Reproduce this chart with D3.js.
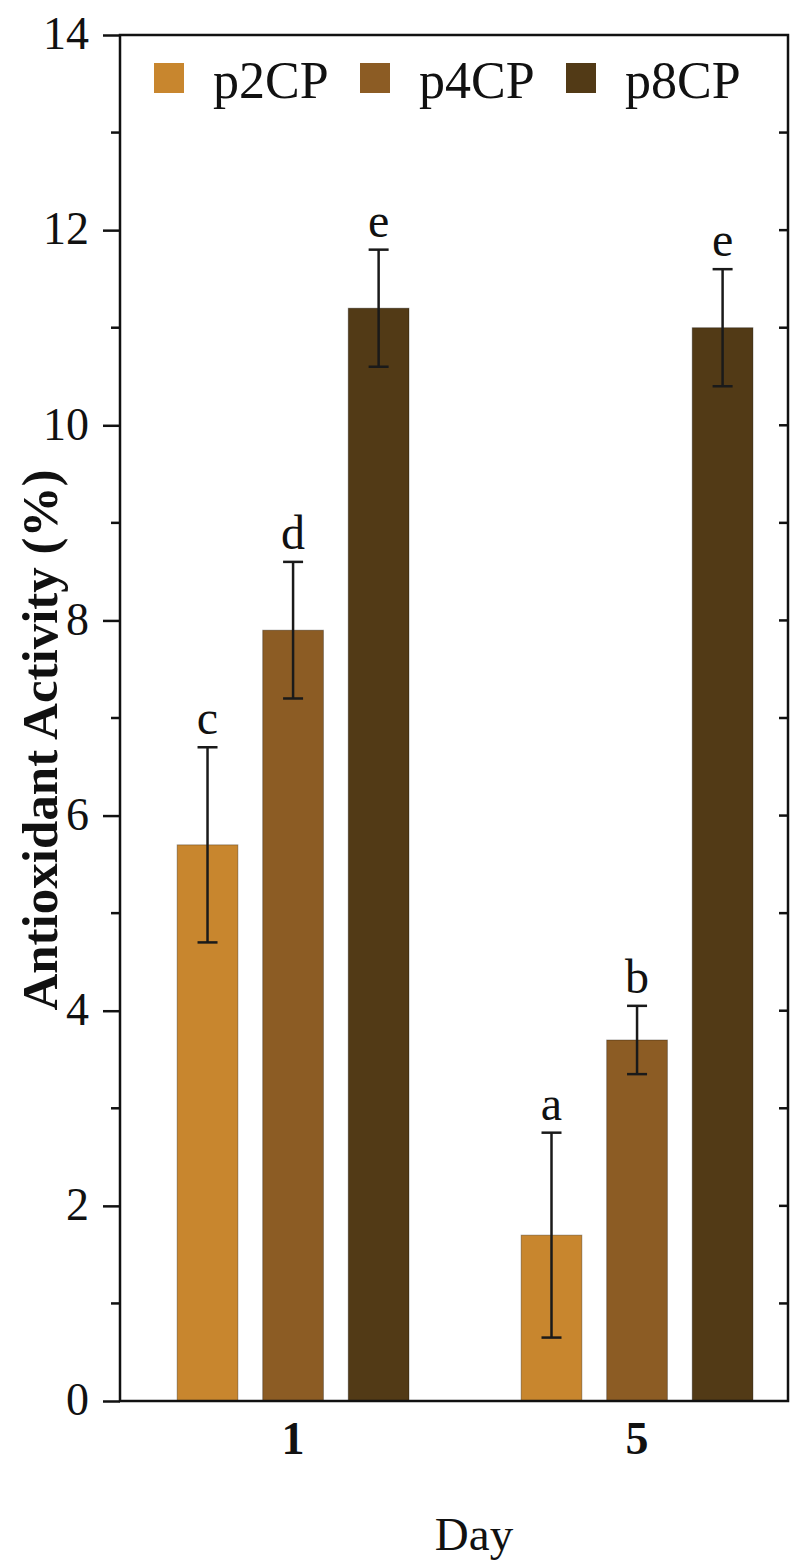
<!DOCTYPE html>
<html>
<head>
<meta charset="utf-8">
<script src="https://cdn.jsdelivr.net/npm/d3@7"></script>
<style>
  body { margin: 0; background: #fff; }
  svg text { font-family: "Liberation Serif", "Times New Roman", serif; fill: #111; }
</style>
</head>
<body>
<svg id="chart"></svg>
<script>
// data
const days = ['1', '5'];
const series = ['p2CP', 'p4CP', 'p8CP'];
const colors = ['#c8862e', '#8c5c24', '#523a16'];
const means = [
  [5.7, 7.9, 11.2],   // day 1
  [1.7, 3.7, 11.0]    // day 5
];
const errs = [
  [1.0, 0.7, 0.6],
  [1.05, 0.35, 0.6]
];
const letters = [
  ['c', 'd', 'e'],
  ['a', 'b', 'e']
];
const yTicks = [0, 2, 4, 6, 8, 10, 12, 14];

const W = 802, H = 1566;
const m = {top: 35, right: 14, bottom: 165, left: 120};

const svg = d3.select('#chart').attr('width', W).attr('height', H);

const y = d3.scaleLinear().domain([0, 14]).range([H - m.bottom, m.top]);
const x0 = d3.scaleBand().domain(days)
  .range([m.left, W - m.right])
  .paddingInner(0.326).paddingOuter(0.134).align(0.62);
const x1 = d3.scaleBand().domain(series)
  .range([0, x0.bandwidth()])
  .paddingInner(0.29);

const rows = [];
days.forEach((d, i) => series.forEach((s, j) => {
  rows.push({day: d, s, j, v: means[i][j], e: errs[i][j], lab: letters[i][j]});
}));

// bars
svg.append('g').selectAll('rect')
  .data(rows)
  .join('rect')
  .attr('x', d => x0(d.day) + x1(d.s))
  .attr('y', d => y(d.v))
  .attr('width', x1.bandwidth())
  .attr('height', d => y(0) - y(d.v))
  .attr('fill', d => colors[d.j])
  .attr('stroke', 'rgba(0,0,0,0.3)')
  .attr('stroke-width', 1);

// error bars
const cx = d => x0(d.day) + x1(d.s) + x1.bandwidth() / 2;
const eb = svg.append('g').attr('stroke', '#1a1a1a').attr('stroke-width', 2.5);
eb.selectAll('line.v').data(rows).join('line')
  .attr('x1', cx).attr('x2', cx)
  .attr('y1', d => y(d.v + d.e)).attr('y2', d => y(d.v - d.e));
eb.selectAll('line.t').data(rows).join('line')
  .attr('x1', d => cx(d) - 10).attr('x2', d => cx(d) + 10)
  .attr('y1', d => y(d.v + d.e)).attr('y2', d => y(d.v + d.e));
eb.selectAll('line.b').data(rows).join('line')
  .attr('x1', d => cx(d) - 10).attr('x2', d => cx(d) + 10)
  .attr('y1', d => y(d.v - d.e)).attr('y2', d => y(d.v - d.e));

// significance letters
svg.append('g').selectAll('text')
  .data(rows)
  .join('text')
  .attr('x', cx)
  .attr('y', d => y(d.v + d.e) - 13)
  .attr('text-anchor', 'middle')
  .attr('font-size', 48)
  .text(d => d.lab);

// left axis: outward major + minor ticks
const yMinor = d3.range(1, 14, 2);
const axL = svg.append('g').attr('transform', `translate(${m.left},0)`);
axL.call(d3.axisLeft(y).tickValues(yTicks).tickSize(17).tickPadding(14).tickFormat(d3.format('d')));
axL.selectAll('.tick line').attr('stroke', '#111').attr('stroke-width', 2.5);
axL.selectAll('.tick text').attr('font-size', 46).attr('fill', '#111')
  .attr('font-family', '"Liberation Serif", serif').attr('dy', '0.3em');
axL.select('.domain').remove();
axL.selectAll('line.minor').data(yMinor).join('line')
  .attr('class', 'minor')
  .attr('x1', -9).attr('x2', 0)
  .attr('y1', d => y(d)).attr('y2', d => y(d))
  .attr('stroke', '#111').attr('stroke-width', 2.5);

// right axis: inward ticks
const axR = svg.append('g').attr('transform', `translate(${W - m.right},0)`);
axR.selectAll('line').data(d3.range(1, 14)).join('line')
  .attr('x1', -9).attr('x2', 0)
  .attr('y1', d => y(d)).attr('y2', d => y(d))
  .attr('stroke', '#111').attr('stroke-width', 2.5);

// frame
svg.append('rect')
  .attr('x', m.left).attr('y', m.top)
  .attr('width', W - m.right - m.left).attr('height', y(0) - m.top)
  .attr('fill', 'none').attr('stroke', '#111').attr('stroke-width', 2.5);

// x axis labels
svg.append('g').selectAll('text')
  .data(days)
  .join('text')
  .attr('x', d => x0(d) + x0.bandwidth() / 2)
  .attr('y', y(0) + 53)
  .attr('text-anchor', 'middle')
  .attr('font-size', 46)
  .attr('font-weight', 'bold')
  .text(d => d);

// axis titles
svg.append('text')
  .attr('x', (m.left + W - m.right) / 2 + 20)
  .attr('y', 1550)
  .attr('text-anchor', 'middle')
  .attr('font-size', 47)
  .text('Day');

svg.append('text')
  .attr('transform', 'translate(57,740) rotate(-90)')
  .attr('text-anchor', 'middle')
  .attr('font-size', 51)
  .attr('font-weight', 'bold')
  .text('Antioxidant Activity (%)');

// legend
const leg = svg.append('g').selectAll('g')
  .data(series)
  .join('g')
  .attr('transform', (d, i) => `translate(${154 + i * 206},0)`);
leg.append('rect')
  .attr('x', 0).attr('y', 63)
  .attr('width', 30).attr('height', 30)
  .attr('fill', (d, i) => colors[i]);
leg.append('text')
  .attr('x', 59).attr('y', 98)
  .attr('font-size', 52)
  .text(d => d);
</script>
</body>
</html>
